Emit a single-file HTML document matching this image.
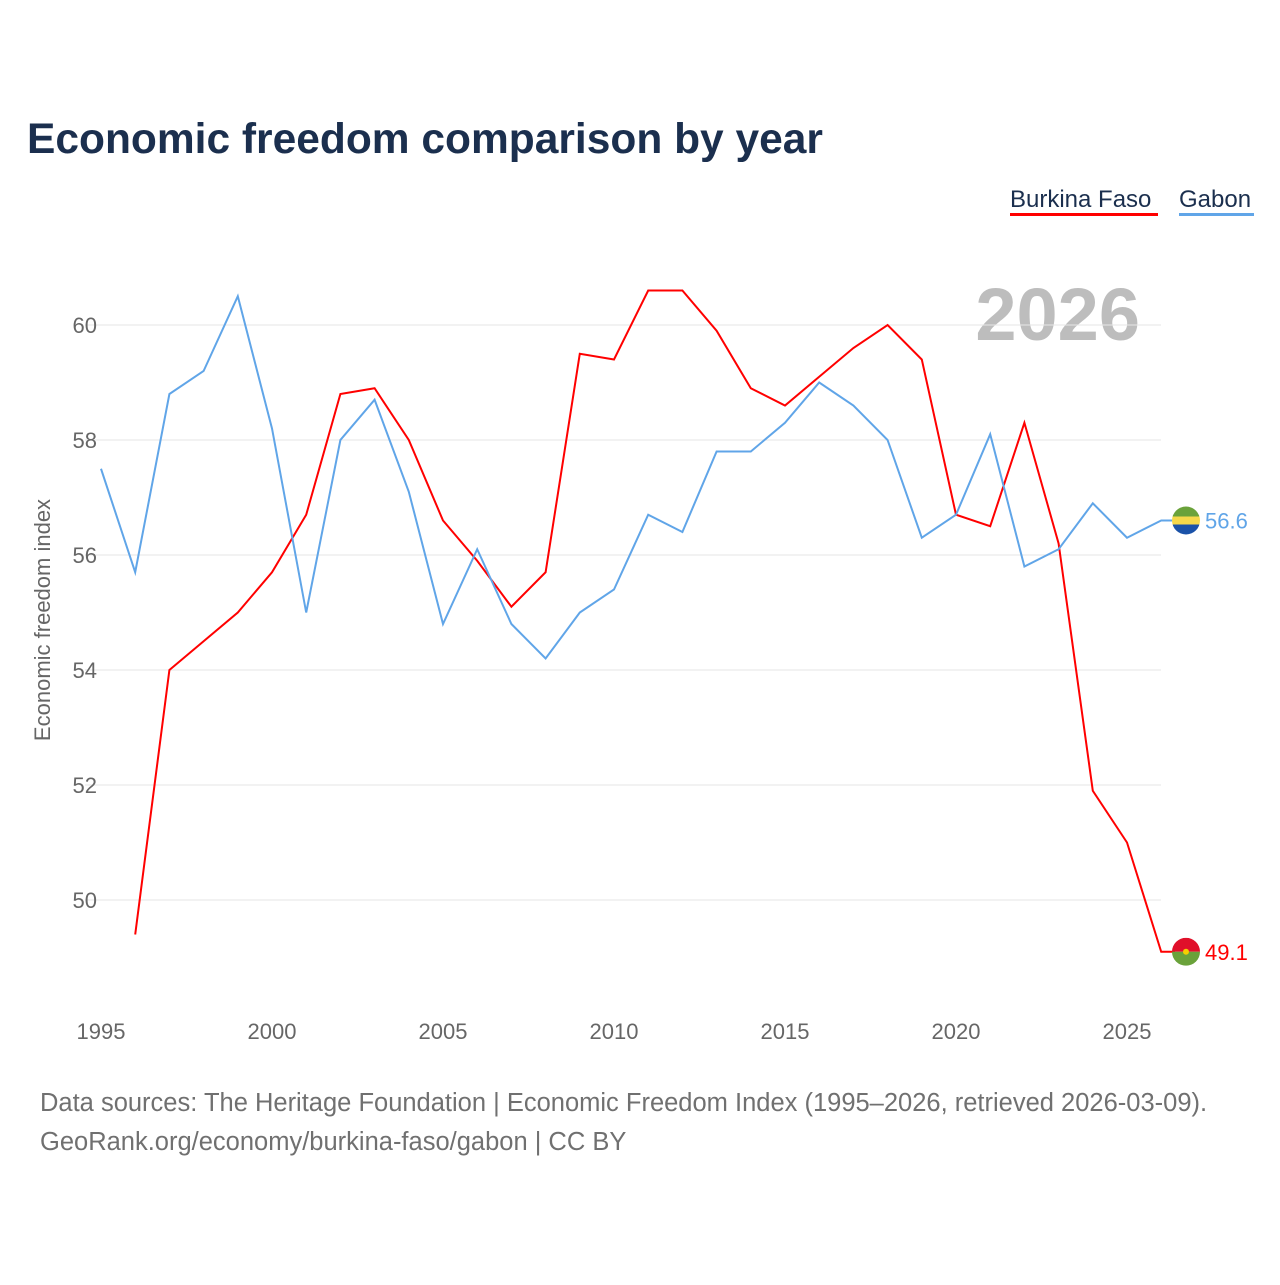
<!DOCTYPE html>
<html><head><meta charset="utf-8"><style>
body{margin:0;background:#fff;font-family:"Liberation Sans",sans-serif;}
</style></head><body>
<svg width="1280" height="1280" xmlns="http://www.w3.org/2000/svg" style="font-family:'Liberation Sans',sans-serif">
<text x="27" y="153" font-size="42.5" font-weight="bold" fill="#1b2f4e">Economic freedom comparison by year</text>
<g>
<text x="1010" y="207" font-size="24" fill="#1b2f4e">Burkina Faso</text>
<rect x="1010" y="213" width="148" height="3" fill="#ff0000"/>
<text x="1179" y="207" font-size="24" fill="#1b2f4e">Gabon</text>
<rect x="1179" y="213" width="75" height="3" fill="#60a5e8"/>
</g>
<text x="1140" y="340" font-size="74" font-weight="bold" fill="#bdbdbd" text-anchor="end">2026</text>
<text transform="translate(50,620) rotate(-90)" font-size="22" fill="#666" text-anchor="middle">Economic freedom index</text>
<g id="grid"></g><g id="yt"></g><g id="xt"></g><g id="lines"></g>
<text x="40" y="1111" font-size="25.5" fill="#707070">Data sources: The Heritage Foundation | Economic Freedom Index (1995–2026, retrieved 2026-03-09).</text>
<text x="40" y="1150" font-size="25.5" fill="#707070">GeoRank.org/economy/burkina-faso/gabon | CC BY</text>
</svg>
<script>
const years=[1995,1996,1997,1998,1999,2000,2001,2002,2003,2004,2005,2006,2007,2008,2009,2010,2011,2012,2013,2014,2015,2016,2017,2018,2019,2020,2021,2022,2023,2024,2025,2026];
const burkina=[null,49.4,54.0,54.5,55.0,55.7,56.7,58.8,58.9,58.0,56.6,55.9,55.1,55.7,59.5,59.4,60.6,60.6,59.9,58.9,58.6,59.1,59.6,60.0,59.4,56.7,56.5,58.3,56.2,51.9,51.0,49.1];
const gabon=[57.5,55.7,58.8,59.2,60.5,58.2,55.0,58.0,58.7,57.1,54.8,56.1,54.8,54.2,55.0,55.4,56.7,56.4,57.8,57.8,58.3,59.0,58.6,58.0,56.3,56.7,58.1,55.8,56.1,56.9,56.3,56.6];
const yTicks=[50,52,54,56,58,60];
const xTicks=[1995,2000,2005,2010,2015,2020,2025];
const NS="http://www.w3.org/2000/svg";
const X=y=>101+(y-1995)*34.2;
const Y=v=>900-(v-50)*57.5;
function mk(t,a,p){const e=document.createElementNS(NS,t);for(const k in a)e.setAttribute(k,a[k]);document.getElementById(p).appendChild(e);return e;}
yTicks.forEach(v=>{
 const l=mk('line',{x1:85,x2:1161,y1:Y(v),y2:Y(v),stroke:'#e6e6e6','stroke-width':1},'grid');
 
 
 const t=mk('text',{x:97,y:Y(v)+8,'font-size':22,fill:'#666','text-anchor':'end'},'yt');t.textContent=v;
 
 
});
xTicks.forEach(v=>{
 const t=mk('text',{x:X(v),y:1039,'font-size':22,fill:'#666','text-anchor':'middle'},'xt');t.textContent=v;
 
 
});
function series(vals,color,name){
 let d='';vals.forEach((v,i)=>{if(v==null)return;d+=(d?'L':'M')+X(years[i])+','+Y(v);});
 const last=vals[vals.length-1];
 d+='L1175,'+Y(last);
 const p=mk('path',{d:d,fill:'none',stroke:color,'stroke-width':2},'lines');
 
 
 const t=mk('text',{x:1205,y:Y(last)+8,'font-size':22,fill:color},'lines');t.textContent=last.toFixed(1);
 
 
 return Y(last);
}
const yb=series(burkina,'#ff0000','burkina-faso');
const yg=series(gabon,'#60a5e8','gabon');
let g=mk('g',{},'lines');


g.innerHTML=`<clipPath id="cb"><circle cx="1186" cy="${yb}" r="14"/></clipPath><g clip-path="url(#cb)"><rect x="1172" y="${yb-14}" width="28" height="14" fill="#e0102a"/><rect x="1172" y="${yb}" width="28" height="14" fill="#6aa23a"/><circle cx="1186" cy="${yb}" r="3" fill="#f5d000"/></g>`;
let g2=mk('g',{},'lines');


g2.innerHTML=`<clipPath id="cg"><circle cx="1186" cy="${yg}" r="14"/></clipPath><g clip-path="url(#cg)"><rect x="1172" y="${yg-14}" width="28" height="10" fill="#6aa23a"/><rect x="1172" y="${yg-4}" width="28" height="8" fill="#f5d84a"/><rect x="1172" y="${yg+4}" width="28" height="10" fill="#1a52a8"/></g>`;
</script>
</body></html>
